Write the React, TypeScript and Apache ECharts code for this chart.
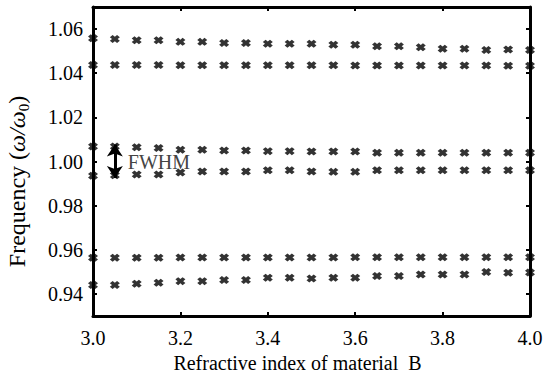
import React, { useEffect, useRef } from "react";
import * as echarts from "echarts";

const xValues = [3.0, 3.05, 3.1, 3.15, 3.2, 3.25, 3.3, 3.35, 3.4, 3.45, 3.5, 3.55, 3.6, 3.65, 3.7, 3.75, 3.8, 3.85, 3.9, 3.95, 4.0];

const band1 = [1.0558, 1.0555, 1.0549, 1.0549, 1.0542, 1.0542, 1.0537, 1.0537, 1.0533, 1.0533, 1.0534, 1.0529, 1.0529, 1.0522, 1.0522, 1.0518, 1.0511, 1.0511, 1.0505, 1.0507, 1.0505];
const band2 = [1.0437, 1.0437, 1.0437, 1.0437, 1.0436, 1.0436, 1.0436, 1.0436, 1.0436, 1.0436, 1.0436, 1.0436, 1.0435, 1.0435, 1.0435, 1.0435, 1.0435, 1.0435, 1.0435, 1.0434, 1.0434];
const band3 = [1.0068, 1.0068, 1.0065, 1.0061, 1.0053, 1.0053, 1.005, 1.005, 1.0047, 1.0047, 1.0045, 1.0045, 1.0045, 1.004, 1.004, 1.004, 1.004, 1.004, 1.004, 1.004, 1.004];
const band4 = [0.9935, 0.9938, 0.9941, 0.9941, 0.995, 0.9955, 0.9955, 0.9955, 0.996, 0.996, 0.9955, 0.9953, 0.9953, 0.996, 0.996, 0.996, 0.996, 0.996, 0.996, 0.996, 0.996];
const band5 = [0.9564, 0.9564, 0.9564, 0.9564, 0.9565, 0.9565, 0.9565, 0.9565, 0.9565, 0.9565, 0.9565, 0.9565, 0.9566, 0.9566, 0.9566, 0.9566, 0.9566, 0.9566, 0.9566, 0.9566, 0.9566];
const band6 = [0.944, 0.944, 0.9446, 0.9451, 0.9458, 0.9458, 0.9463, 0.9463, 0.9473, 0.9473, 0.947, 0.9473, 0.9473, 0.9481, 0.9481, 0.9488, 0.9488, 0.9488, 0.9499, 0.9496, 0.9497];

const yTicks = [0.94, 0.96, 0.98, 1.0, 1.02, 1.04, 1.06];
const fwhmX = 3.05;
const fwhmTop = 1.0077;
const fwhmBottom = 0.9925;
const fwhmLabelY = 0.9998;

const FONT = "Liberation Serif";
const CROSS = "path://M0,2.8L2.8,0L5,2.2L7.2,0L10,2.8L7.8,5L10,7.2L7.2,10L5,7.8L2.8,10L0,7.2L2.2,5Z";

export default function App() {
  const ref = useRef<HTMLDivElement>(null);
  useEffect(() => {
    if (!ref.current) return;
    const chart = echarts.init(ref.current, undefined, { renderer: "svg" });
    const bands = [band1, band2, band3, band4, band5, band6];
    const axisLine = { show: true, onZero: false, lineStyle: { color: "#000", width: 3 } };
    const axisTick = { show: true, inside: true, length: 4, lineStyle: { color: "#000", width: 2 } };
    const labelStyle = { color: "#000", fontFamily: FONT, fontSize: 20 };
    const series: any[] = bands.map((b, k) => ({
      type: "scatter",
      name: "band" + (k + 1),
      data: xValues.map((x, i) => [x, b[i]]),
      symbol: CROSS,
      symbolSize: [10, 8],
      itemStyle: { color: "#000" },
      clip: false,
      silent: true,
      z: 2,
    }));
    series.push({
      type: "scatter",
      name: "FWHM",
      data: [],
      z: 5,
      markLine: {
        silent: true,
        animation: false,
        symbol: ["arrow", "arrow"],
        symbolSize: [12, 12],
        lineStyle: { color: "#000", width: 3, type: "solid" },
        itemStyle: { color: "#000" },
        label: { show: false },
        data: [[{ coord: [fwhmX, fwhmTop] }, { coord: [fwhmX, fwhmBottom] }]],
      },
      markPoint: {
        silent: true,
        animation: false,
        symbol: "circle",
        symbolSize: 0,
        itemStyle: { color: "transparent" },
        label: { show: true, position: "right", distance: 13, formatter: "FWHM", color: "#444", fontFamily: FONT, fontSize: 20 },
        data: [{ coord: [fwhmX, fwhmLabelY] }],
      },
    });
    chart.setOption({
      animation: false,
      backgroundColor: "#fff",
      grid: { left: 93, right: 14, top: 7, bottom: 61, show: false, containLabel: false, outerBoundsMode: "none" },
      xAxis: [
        {
          type: "value", min: 3, max: 4, interval: 0.2, position: "bottom", z: 10,
          axisLine, axisTick,
          axisLabel: { ...labelStyle, margin: 12, formatter: (v: number) => v.toFixed(1) },
          splitLine: { show: false },
          name: "Refractive index of material  B", nameLocation: "middle", nameGap: 36,
          nameTextStyle: { ...labelStyle, padding: [0, 28, 0, 0] },
        },
        {
          type: "value", min: 3, max: 4, interval: 0.2, position: "top", z: 10,
          axisLine, axisTick, axisLabel: { show: false }, splitLine: { show: false },
        },
      ],
      yAxis: [
        {
          type: "value", min: 0.93, max: 1.07, position: "left", z: 10,
          axisLine,
          axisTick: { ...axisTick, customValues: yTicks },
          axisLabel: { ...labelStyle, margin: 10, customValues: yTicks, formatter: (v: number) => v.toFixed(2) },
          splitLine: { show: false },
          name: "{n|Frequency (}{i|ω/ω}{s|0}{n|)}", nameLocation: "middle", nameGap: 62,
          nameTextStyle: {
            ...labelStyle,
            padding: [0, 40, 0, 0],
            rich: {
              n: { fontFamily: FONT, fontSize: 24, color: "#000", lineHeight: 28 },
              i: { fontFamily: FONT, fontSize: 24, color: "#000", fontStyle: "italic", lineHeight: 28 },
              s: { fontFamily: FONT, fontSize: 15, color: "#000", lineHeight: 16, verticalAlign: "bottom" },
            },
          },
        },
        {
          type: "value", min: 0.93, max: 1.07, position: "right", z: 10,
          axisLine,
          axisTick: { ...axisTick, customValues: yTicks },
          axisLabel: { show: false }, splitLine: { show: false },
        },
      ],
      series,
    });
    return () => chart.dispose();
  }, []);
  return <div ref={ref} style={{ position: "fixed", left: 0, top: 0, width: 544, height: 377, background: "#fff" }} />;
}
